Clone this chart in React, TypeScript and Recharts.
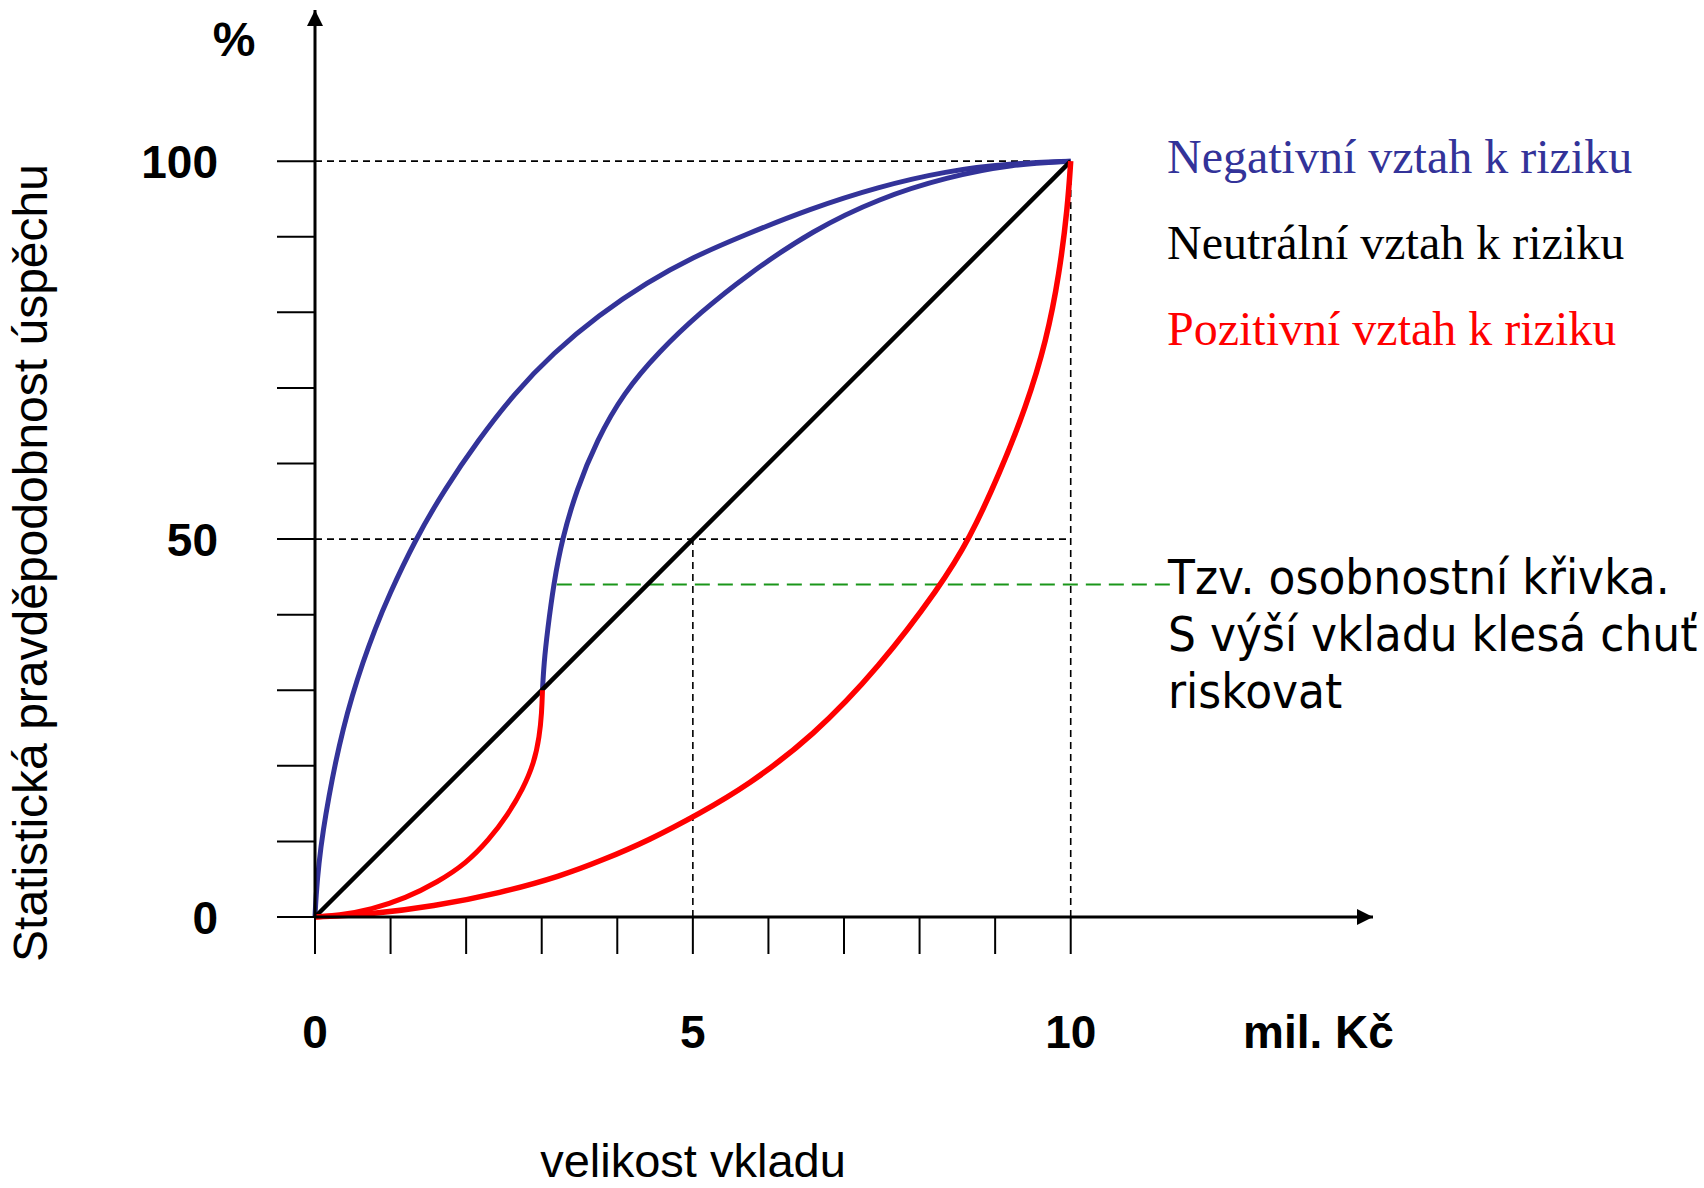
import React from 'react';
import { LineChart, Line, XAxis, YAxis, ReferenceLine, ReferenceDot } from 'recharts';

// axis ticks (every 1 mil. Kč / every 10 %), only some of them carry a label
const X_TICKS = [0, 1, 2, 3, 4, 5, 6, 7, 8, 9, 10];
const Y_TICKS = [0, 10, 20, 30, 40, 50, 60, 70, 80, 90, 100];
const X_LABELS = [0, 5, 10];
const Y_LABELS = [0, 50, 100];

// negativní vztah k riziku (outer blue curve)
const negativeCurve = [
  { x: 0, y: 0 },
  { x: 0.013, y: 2.7 },
  { x: 0.05, y: 7.1 },
  { x: 0.11, y: 11.6 },
  { x: 0.185, y: 16 },
  { x: 0.27, y: 20.4 },
  { x: 0.37, y: 24.8 },
  { x: 0.49, y: 29.2 },
  { x: 0.63, y: 33.6 },
  { x: 0.79, y: 38 },
  { x: 0.97, y: 42.4 },
  { x: 1.33, y: 50 },
  { x: 1.71, y: 56.5 },
  { x: 2.16, y: 63.1 },
  { x: 2.64, y: 69.3 },
  { x: 3.15, y: 74.6 },
  { x: 3.75, y: 79.6 },
  { x: 4.4, y: 84 },
  { x: 5.0, y: 87.3 },
  { x: 5.65, y: 90.1 },
  { x: 6.55, y: 93.7 },
  { x: 7.45, y: 96.6 },
  { x: 8.35, y: 98.7 },
  { x: 9.2, y: 99.7 },
  { x: 10, y: 100 },
];

// neutrální vztah k riziku
const neutralLine = [
  { x: 0, y: 0 },
  { x: 10, y: 100 },
];

// pozitivní vztah k riziku (outer red curve)
const positiveCurve = [
  { x: 0, y: 0 },
  { x: 0.69, y: 0.3 },
  { x: 1.57, y: 1.4 },
  { x: 2.46, y: 3.2 },
  { x: 3.25, y: 5.4 },
  { x: 3.8, y: 7.5 },
  { x: 4.43, y: 10.2 },
  { x: 5.09, y: 13.7 },
  { x: 5.71, y: 17.3 },
  { x: 6.59, y: 23.9 },
  { x: 7.47, y: 33.1 },
  { x: 8.27, y: 43.7 },
  { x: 8.66, y: 50 },
  { x: 9.06, y: 58.7 },
  { x: 9.41, y: 67.5 },
  { x: 9.68, y: 76.3 },
  { x: 9.85, y: 85.1 },
  { x: 9.96, y: 94 },
  { x: 10, y: 100 },
];

// osobnostní křivka - red part below 3 mil.
const personalLow = [
  { x: 0, y: 0 },
  { x: 0.3, y: 0.2 },
  { x: 0.75, y: 1.0 },
  { x: 1.2, y: 2.5 },
  { x: 1.62, y: 4.6 },
  { x: 2.0, y: 7.1 },
  { x: 2.3, y: 10.2 },
  { x: 2.55, y: 13.5 },
  { x: 2.75, y: 16.9 },
  { x: 2.9, y: 20.4 },
  { x: 2.97, y: 23.9 },
  { x: 3.0, y: 27 },
  { x: 3.01, y: 30 },
];

// osobnostní křivka - blue part above 3 mil.
const personalHigh = [
  { x: 3.01, y: 30 },
  { x: 3.03, y: 33.6 },
  { x: 3.075, y: 37.8 },
  { x: 3.16, y: 44.2 },
  { x: 3.27, y: 50 },
  { x: 3.46, y: 56.5 },
  { x: 3.73, y: 63.1 },
  { x: 4.08, y: 69.3 },
  { x: 4.55, y: 74.8 },
  { x: 5.1, y: 80 },
  { x: 5.71, y: 84.9 },
  { x: 6.59, y: 90.9 },
  { x: 7.47, y: 95.1 },
  { x: 8.36, y: 97.9 },
  { x: 9.24, y: 99.6 },
  { x: 10, y: 100 },
];

// dashed helper lines
const guideSegments = [
  [{ x: 0, y: 100 }, { x: 10, y: 100 }],
  [{ x: 0, y: 50 }, { x: 10, y: 50 }],
  [{ x: 10, y: 0 }, { x: 10, y: 100 }],
  [{ x: 5, y: 0 }, { x: 5, y: 50 }],
];
const noteSegment = [{ x: 3.2, y: 44 }, { x: 11.41, y: 44 }];

const LEGEND = [
  { label: 'Negativní vztah k riziku', color: '#333399' },
  { label: 'Neutrální vztah k riziku', color: '#000000' },
  { label: 'Pozitivní vztah k riziku', color: '#ff0000' },
];
const NOTE_LINES = ['Tzv. osobnostní křivka.', 'S výší vkladu klesá chuť', 'riskovat'];

const BLUE = '#333399';
const RED = '#ff0000';
const SANS = '"Liberation Sans", Arial, sans-serif';
const SERIF = '"Liberation Serif", "Times New Roman", serif';
const HAND = '"Comic Sans MS", "DejaVu Sans", sans-serif';

const XTick = ({ x, y, payload }: any) => {
  if (!X_LABELS.includes(payload.value)) return <g />;
  return (
    <text x={x} y={y + 94} textAnchor="middle" fontFamily={SANS} fontWeight="bold" fontSize={46} fill="#000">
      {payload.value}
    </text>
  );
};

const YTick = ({ x, y, payload }: any) => {
  if (!Y_LABELS.includes(payload.value)) return <g />;
  return (
    <text x={x - 59} y={y + 17} textAnchor="end" fontFamily={SANS} fontWeight="bold" fontSize={46} fill="#000">
      {payload.value}
    </text>
  );
};

const ArrowRight = ({ cx, cy }: any) => <path d={`M${cx},${cy} l-16,-8 l0,16 z`} fill="#000" />;
const ArrowUp = ({ cx, cy }: any) => <path d={`M${cx},${cy} l-8,16 l16,0 z`} fill="#000" />;

export default function App() {
  return (
    <div style={{ position: 'absolute', left: 0, top: 0, width: 1704, height: 1188, background: '#fff', overflow: 'hidden' }}>
      <LineChart width={1704} height={1188} margin={{ top: 10, right: 331, bottom: 0, left: 0 }}>
        <XAxis
          dataKey="x"
          type="number"
          domain={[0, 14]}
          ticks={X_TICKS}
          interval={0}
          height={271}
          tickSize={37}
          tickMargin={0}
          axisLine={{ stroke: '#000', strokeWidth: 3 }}
          tickLine={{ stroke: '#000', strokeWidth: 2 }}
          tick={<XTick />}
        />
        <YAxis
          type="number"
          domain={[0, 120]}
          ticks={Y_TICKS}
          interval={0}
          width={315}
          tickSize={38}
          tickMargin={0}
          axisLine={{ stroke: '#000', strokeWidth: 3 }}
          tickLine={{ stroke: '#000', strokeWidth: 2 }}
          tick={<YTick />}
        />
        {guideSegments.map((seg, i) => (
          <ReferenceLine key={`g-${i}`} segment={seg} stroke="#000" strokeWidth={1.6} strokeDasharray="7 5" />
        ))}
        <ReferenceLine segment={noteSegment} stroke="#1a961a" strokeWidth={2} strokeDasharray="15 8" />
        <Line data={negativeCurve} dataKey="y" type="basis" stroke={BLUE} strokeWidth={5} dot={false} activeDot={false} isAnimationActive={false} />
        <Line data={personalHigh} dataKey="y" type="basis" stroke={BLUE} strokeWidth={5} dot={false} activeDot={false} isAnimationActive={false} />
        <Line data={neutralLine} dataKey="y" type="linear" stroke="#000" strokeWidth={4.5} dot={false} activeDot={false} isAnimationActive={false} />
        <Line data={personalLow} dataKey="y" type="basis" stroke={RED} strokeWidth={5} dot={false} activeDot={false} isAnimationActive={false} />
        <Line data={positiveCurve} dataKey="y" type="basis" stroke={RED} strokeWidth={5.5} dot={false} activeDot={false} isAnimationActive={false} />
        <ReferenceDot x={14} y={0} r={0} shape={<ArrowRight />} ifOverflow="visible" />
        <ReferenceDot x={0} y={120} r={0} shape={<ArrowUp />} ifOverflow="visible" />
      </LineChart>
      <svg width={1704} height={1188} style={{ position: 'absolute', left: 0, top: 0, pointerEvents: 'none' }}>
        <text x={234} y={56} textAnchor="middle" fontFamily={SANS} fontWeight="bold" fontSize={48} fill="#000">%</text>
        <text x={1243} y={1048} fontFamily={SANS} fontWeight="bold" fontSize={46} fill="#000">mil. Kč</text>
        <text x={693} y={1177} textAnchor="middle" fontFamily={SANS} fontSize={47} fill="#000">velikost vkladu</text>
        <text transform="translate(47,563) rotate(-90)" textAnchor="middle" fontFamily={SANS} fontSize={48} fill="#000">
          Statistická pravděpodobnost úspěchu
        </text>
        {LEGEND.map((item, i) => (
          <text key={item.label} x={1167} y={173 + i * 86} fontFamily={SERIF} fontSize={48} fill={item.color}>
            {item.label}
          </text>
        ))}
        {NOTE_LINES.map((line, i) => (
          <text
            key={line}
            transform={`translate(1168,${594 + i * 57}) scale(1,1.1)`}
            fontFamily={HAND}
            fontSize={44}
            fill="#000"
          >
            {line}
          </text>
        ))}
      </svg>
    </div>
  );
}
